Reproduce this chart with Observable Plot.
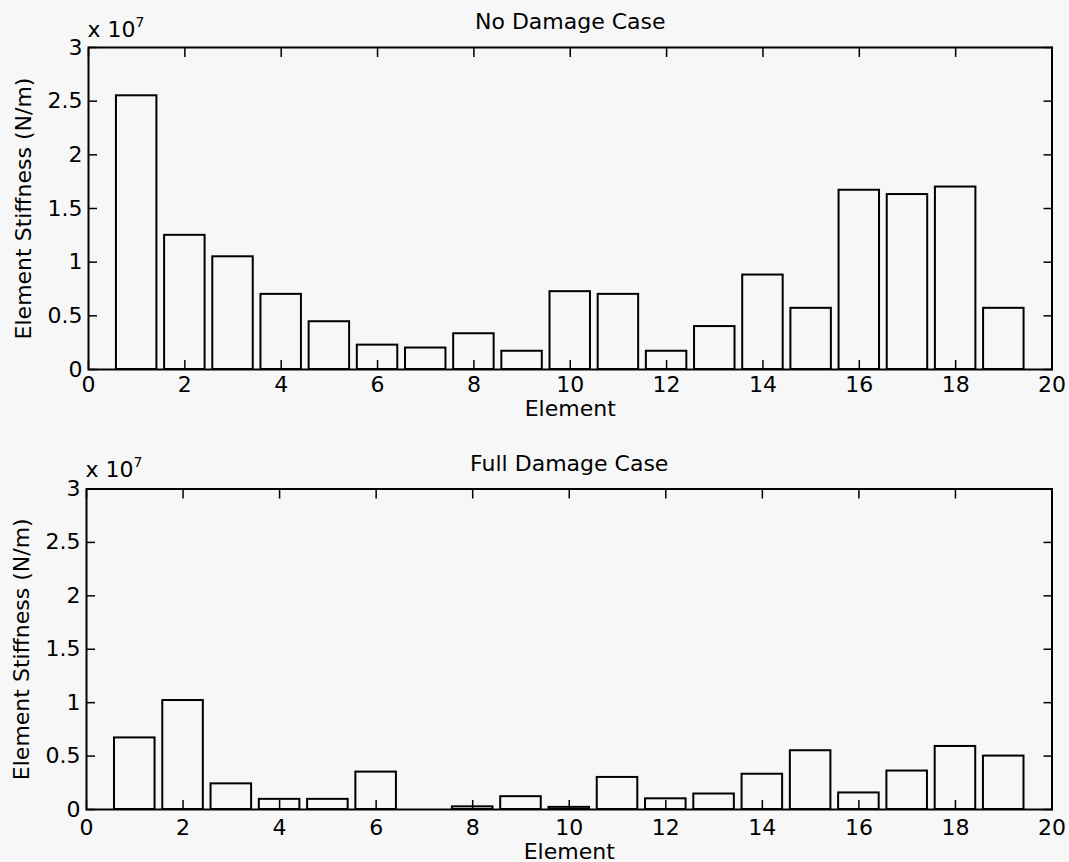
<!DOCTYPE html>
<html>
<head>
<meta charset="utf-8">
<script src="https://cdn.jsdelivr.net/npm/d3@7"></script>
<script src="https://cdn.jsdelivr.net/npm/@observablehq/plot@0.6"></script>
<style>
  html, body { margin: 0; padding: 0; background: #f7f7f7; }
  #chart { width: 1069px; height: 862px; position: relative; }
  #chart svg { display: block; }
</style>
</head>
<body>
<div id="chart"></div>
<script>
// ---- data ----
const elements = [1, 2, 3, 4, 5, 6, 7, 8, 9, 10, 11, 12, 13, 14, 15, 16, 17, 18, 19];
const noDamage = [2.55e7, 1.25e7, 1.05e7, 0.70e7, 0.445e7, 0.227e7, 0.20e7, 0.333e7, 0.17e7,
                  0.725e7, 0.70e7, 0.17e7, 0.40e7, 0.88e7, 0.57e7, 1.67e7, 1.63e7, 1.70e7, 0.57e7];
const fullDamage = [0.67e7, 1.02e7, 0.24e7, 0.095e7, 0.095e7, 0.35e7, 0, 0.025e7, 0.12e7,
                    0.02e7, 0.30e7, 0.10e7, 0.145e7, 0.33e7, 0.55e7, 0.155e7, 0.36e7, 0.59e7, 0.50e7];
const panelTitles = ["No Damage Case", "Full Damage Case"];
const xTicks = [0, 2, 4, 6, 8, 10, 12, 14, 16, 18, 20];
const yTicks = [0, 0.5e7, 1e7, 1.5e7, 2e7, 2.5e7, 3e7];
const yTickLabels = ["0", "0.5", "1", "1.5", "2", "2.5", "3"];
const exponentBase = "x 10";
const exponentPower = "7";
const yLabel = "Element Stiffness (N/m)";
const xLabel = "Element";
const barWidth = 0.84;

const FONT = "'DejaVu Sans', Verdana, sans-serif";

function panel(values, title, L) {
  const data = elements.map((e, i) => ({e, v: values[i]}));
  const txt = {fontSize: 22, fill: "#000", fontFamily: FONT};
  return Plot.plot({
    width: 1069,
    height: L.height,
    marginLeft: L.ml, marginRight: L.mr, marginTop: L.mt, marginBottom: L.mb,
    style: {background: "transparent", fontFamily: FONT, fontSize: "22px", color: "#000", overflow: "visible"},
    x: {domain: [0, 20], label: null},
    y: {domain: [0, 3e7], label: null},
    marks: [
      Plot.rectY(data, {x1: d => d.e - barWidth / 2, x2: d => d.e + barWidth / 2, y1: 0, y2: "v",
                        fill: "none", stroke: "#000", strokeWidth: 2}),
      // tick labels
      Plot.axisX(xTicks, {anchor: "bottom", tickSize: 0, tickPadding: L.xpad, label: null, fontSize: 22}),
      Plot.axisY(yTicks, {anchor: "left", tickSize: 0, tickPadding: 6, label: null, fontSize: 22,
                          tickFormat: d => yTickLabels[yTicks.indexOf(d)]}),
      // inward ticks on all four sides
      Plot.axisX(xTicks, {anchor: "bottom", tickSize: 9, dy: -9, tickFormat: () => "", label: null, strokeWidth: 1.5}),
      Plot.axisX(xTicks, {anchor: "top", tickSize: 9, dy: 9, tickFormat: () => "", label: null, strokeWidth: 1.5}),
      Plot.axisY(yTicks, {anchor: "left", tickSize: 9, dx: 9, tickFormat: () => "", label: null, strokeWidth: 1.5}),
      Plot.axisY(yTicks, {anchor: "right", tickSize: 9, dx: -9, tickFormat: () => "", label: null, strokeWidth: 1.5}),
      Plot.frame({stroke: "#000", strokeWidth: 2}),
      // titles and labels
      Plot.text([title], {text: d => d, frameAnchor: "top", lineAnchor: "bottom", dy: -L.titleGap, ...txt}),
      Plot.text([exponentBase], {text: d => d, frameAnchor: "top-left", textAnchor: "start", lineAnchor: "bottom",
                                 dx: -1, dy: -L.expGap, ...txt}),
      Plot.text([exponentPower], {text: d => d, frameAnchor: "top-left", textAnchor: "start", lineAnchor: "bottom",
                                  dx: 47, dy: -L.expGap - 10, ...txt, fontSize: 14}),
      Plot.text([yLabel], {text: d => d, frameAnchor: "left", textAnchor: "middle", rotate: -90, lineAnchor: "top",
                           dx: L.ylabX - L.ml, ...txt}),
      Plot.text([xLabel], {text: d => d, frameAnchor: "bottom", lineAnchor: "bottom", dy: L.xlabGap, ...txt})
    ]
  });
}

const chart = document.getElementById("chart");
chart.appendChild(panel(noDamage, panelTitles[0],
  {height: 431, ml: 88, mr: 17.5, mt: 47, mb: 62, xpad: 7, titleGap: 19, expGap: 11, ylabX: 14.5, xlabGap: 46}));
chart.appendChild(panel(fullDamage, panelTitles[1],
  {height: 431, ml: 86, mr: 17.5, mt: 57.5, mb: 53, xpad: 10, titleGap: 18, expGap: 12, ylabX: 13, xlabGap: 49}));
</script>
</body>
</html>
